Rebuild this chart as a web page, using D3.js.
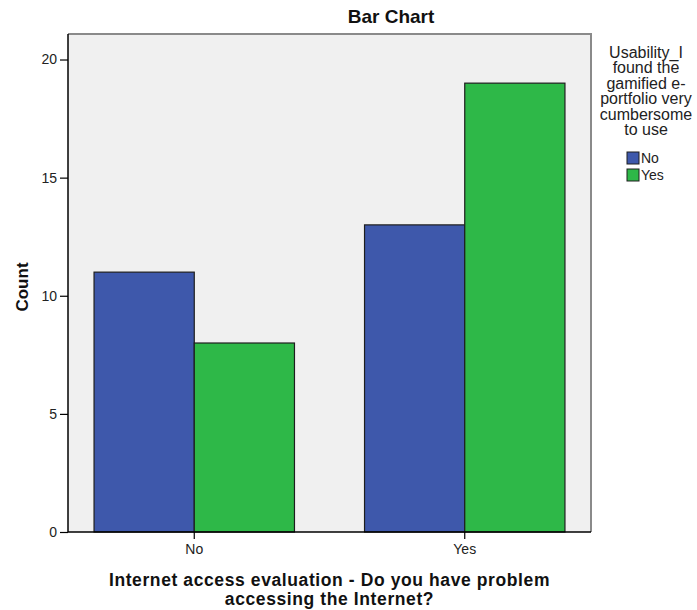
<!DOCTYPE html>
<html>
<head>
<meta charset="utf-8">
<script src="https://cdn.jsdelivr.net/npm/d3@7"></script>
<style>
  html, body { margin: 0; padding: 0; background: #ffffff; }
  svg { display: block; font-family: "Liberation Sans", Arial, sans-serif; }
</style>
</head>
<body>
<svg id="chart" width="697" height="610"></svg>
<script>
// Internet access problem (x categories) split by usability answer (legend groups)
const categories = ["No", "Yes"];
const groups = ["No", "Yes"];
const countsNo = [11, 13];   // "No" answer to the usability item
const countsYes = [8, 19];   // "Yes" answer to the usability item
const yTicks = [0, 5, 10, 15, 20];
const legendTitle = ["Usability_I", "found the", "gamified e-", "portfolio very", "cumbersome", "to use"];
const xTitle = ["Internet access evaluation - Do you have problem", "accessing the Internet?"];

const colors = { "No": "#3e58ab", "Yes": "#2eb848" };

const rows = categories.map((c, i) => ({
  category: c,
  values: [
    { group: "No", value: countsNo[i] },
    { group: "Yes", value: countsYes[i] }
  ]
}));

const svg = d3.select("#chart");
const plot = { left: 68, right: 591, top: 34, bottom: 532 };

const x = d3.scaleBand()
  .domain(categories)
  .range([plot.left, plot.right])
  .paddingInner(0.259)
  .paddingOuter(0.0963);

const xSub = d3.scaleBand()
  .domain(groups)
  .range([0, x.bandwidth()]);

const y = d3.scaleLinear()
  .domain([0, 21.08])
  .range([plot.bottom, plot.top]);

// Plot background and frame
svg.append("rect")
  .attr("x", plot.left).attr("y", plot.top)
  .attr("width", plot.right - plot.left).attr("height", plot.bottom - plot.top)
  .attr("fill", "#f0f0f0");

svg.append("path")
  .attr("d", `M${plot.left},${plot.top}H${plot.right}V${plot.bottom}`)
  .attr("fill", "none")
  .attr("stroke", "#8a8a8a")
  .attr("stroke-width", 2);

// Bars
const g = svg.append("g");
g.selectAll("g.cat")
  .data(rows)
  .join("g")
  .attr("class", "cat")
  .attr("transform", d => `translate(${x(d.category)},0)`)
  .selectAll("rect")
  .data(d => d.values)
  .join("rect")
  .attr("x", d => xSub(d.group))
  .attr("y", d => y(d.value))
  .attr("width", xSub.bandwidth())
  .attr("height", d => y(0) - y(d.value))
  .attr("fill", d => colors[d.group])
  .attr("stroke", "#1e1e1e")
  .attr("stroke-width", 1.2);

// Y axis
const yAxis = svg.append("g")
  .attr("transform", `translate(${plot.left},0)`)
  .call(d3.axisLeft(y).tickValues(yTicks).tickSize(8).tickPadding(3).tickFormat(d3.format("d")));
yAxis.select(".domain").attr("stroke", "#000").attr("stroke-width", 1.5)
  .attr("d", `M0,${plot.top}V${plot.bottom}`);
yAxis.selectAll(".tick line").attr("stroke", "#000").attr("stroke-width", 1.2);
yAxis.selectAll(".tick text").attr("font-size", 14).attr("fill", "#222")
  .attr("font-family", "Liberation Sans, Arial, sans-serif");

// X axis
const xAxis = svg.append("g")
  .attr("transform", `translate(0,${plot.bottom})`)
  .call(d3.axisBottom(x).tickSize(7).tickPadding(5));
xAxis.select(".domain").attr("stroke", "#000").attr("stroke-width", 1.5)
  .attr("d", `M${plot.left},0H${plot.right}`);
xAxis.selectAll(".tick line").attr("stroke", "#000").attr("stroke-width", 1.2);
xAxis.selectAll(".tick text").attr("font-size", 14).attr("fill", "#222")
  .attr("font-family", "Liberation Sans, Arial, sans-serif");

// Title
svg.append("text")
  .attr("x", 391).attr("y", 23)
  .attr("text-anchor", "middle")
  .attr("font-size", 19).attr("font-weight", "bold").attr("fill", "#111")
  .text("Bar Chart");

// Y axis title
svg.append("text")
  .attr("transform", `translate(28,${(plot.top + plot.bottom) / 2 + 4}) rotate(-90)`)
  .attr("text-anchor", "middle")
  .attr("font-size", 17).attr("font-weight", "bold").attr("fill", "#111")
  .text("Count");

// X axis title
svg.append("text")
  .attr("text-anchor", "middle")
  .attr("font-size", 17.5).attr("font-weight", "bold").attr("fill", "#111")
  .attr("letter-spacing", 0.6)
  .selectAll("tspan")
  .data(xTitle)
  .join("tspan")
  .attr("x", (plot.left + plot.right) / 2)
  .attr("y", (d, i) => 586 + i * 19)
  .text(d => d);

// Legend
const legend = svg.append("g");
legend.append("text")
  .attr("text-anchor", "middle")
  .attr("font-size", 16).attr("fill", "#222")
  .selectAll("tspan")
  .data(legendTitle)
  .join("tspan")
  .attr("x", 646)
  .attr("y", (d, i) => 58 + i * 15.4)
  .text(d => d);

const items = legend.selectAll("g.item")
  .data(groups)
  .join("g")
  .attr("class", "item")
  .attr("transform", (d, i) => `translate(627,${152 + i * 17})`);
items.append("rect")
  .attr("width", 12).attr("height", 12)
  .attr("fill", d => colors[d])
  .attr("stroke", "#1e1e1e").attr("stroke-width", 1);
items.append("text")
  .attr("x", 14).attr("y", 11)
  .attr("font-size", 14).attr("fill", "#222")
  .text(d => d);
</script>
</body>
</html>
